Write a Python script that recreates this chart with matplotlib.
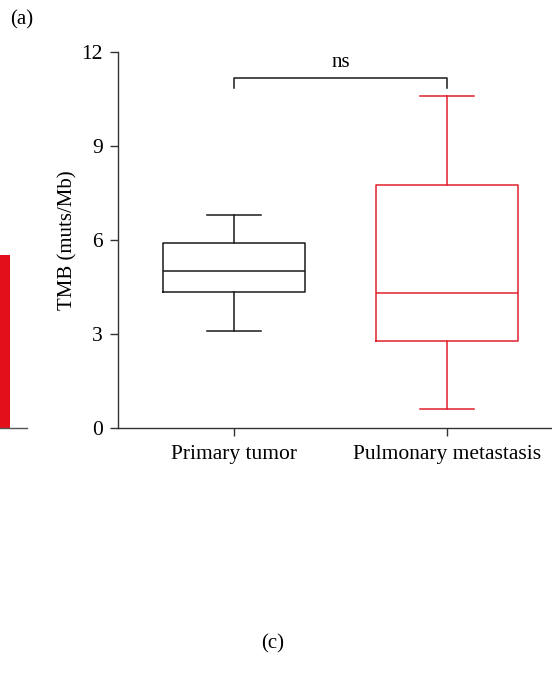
import matplotlib
matplotlib.use("Agg")
import matplotlib.pyplot as plt

# ---- data ----
categories = ["Primary tumor", "Pulmonary metastasis"]
whisker_low = [3.1, 0.6]
q1 = [4.35, 2.78]
median = [5.0, 4.3]
q3 = [5.9, 7.76]
whisker_high = [6.8, 10.6]
colors = ["#1a1a1a", "#e0202e"]
yticks = [0, 3, 6, 9, 12]
sig_label = "ns"
neighbor_bar_value = [5.52]

plt.rcParams['font.family'] = ['Liberation Serif', 'DejaVu Serif']
FS = 15

fig = plt.figure(figsize=(5.52, 6.86), dpi=100)
H = 686.0
W = 552.0
ax = fig.add_axes([118 / W, 1 - 428 / H, 1 - 118 / W, (428 - 52) / H])

stats = []
for i, c in enumerate(categories):
    stats.append(dict(label=c, whislo=whisker_low[i], q1=q1[i], med=median[i],
                      q3=q3[i], whishi=whisker_high[i], fliers=[]))

for i, s in enumerate(stats):
    col = colors[i]
    ax.bxp([s], positions=[i], widths=0.67, showfliers=False,
           boxprops=dict(color=col, lw=1.1),
           medianprops=dict(color=col, lw=1.1),
           whiskerprops=dict(color=col, lw=1.1),
           capprops=dict(color=col, lw=1.1),
           capwidths=0.25)

ax.set_xlim(-0.545, 1.493)
ax.set_ylim(0, 12)
ax.set_yticks(yticks)
ax.set_xticks([0, 1])
ax.set_xticklabels(categories, fontsize=FS + 0.5)
ax.tick_params(axis='y', labelsize=FS + 0.5, length=6, width=1.0, direction='out', color='#333333', pad=5)
ax.tick_params(axis='x', length=6, width=1.0, direction='out', color='#333333', pad=6)
for sp in ['top', 'right']:
    ax.spines[sp].set_visible(False)
for sp in ['left', 'bottom']:
    ax.spines[sp].set_linewidth(1.0)
    ax.spines[sp].set_color('#333333')
ax.set_ylabel("TMB (muts/Mb)", fontsize=FS, labelpad=3)

# significance bracket
yb = 11.17
yl = 10.85
ax.plot([0, 0, 1, 1], [yl, yb, yb, yl], color='#1a1a1a', lw=1.1, clip_on=False)
ax.text(0.5, yb + 0.18, sig_label, ha='center', va='bottom', fontsize=FS)

# fragment of neighbouring panel on left
ax2 = fig.add_axes([0, 1 - 428 / H, 27 / W, (428 - 52) / H])
ax2.bar([0], neighbor_bar_value, width=1.0, align='edge', color='#e3101b')
ax2.set_xlim(0, 2.7)
ax2.set_ylim(0, 12)
ax2.axis('off')
ax2.axhline(0, color='#555555', lw=1.0, clip_on=False)

fig.text(22 / W, 1 - 20 / H, "(a)", ha='center', va='center', fontsize=FS)
fig.text(273 / W, 1 - 644 / H, "(c)", ha='center', va='center', fontsize=FS)

fig.savefig("out.png", dpi=100)
